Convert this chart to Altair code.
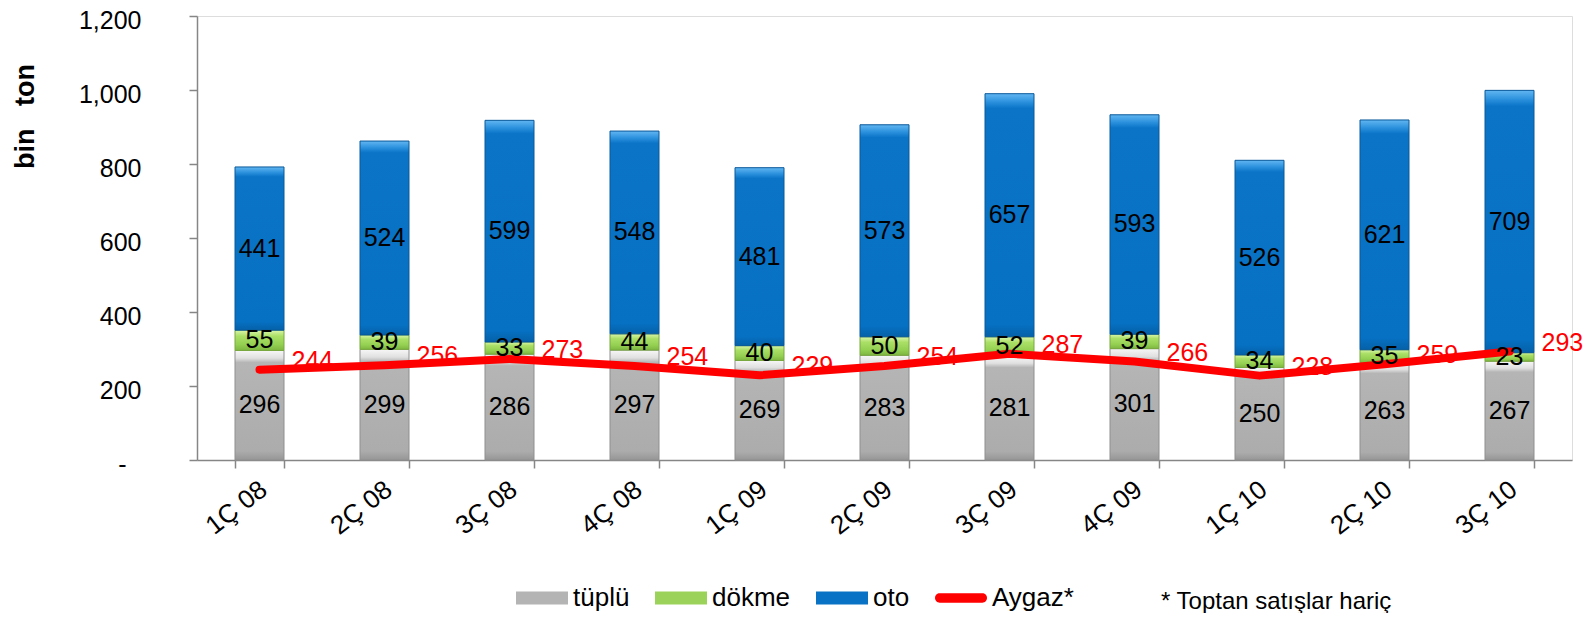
import altair as alt
import pandas as pd

# ---- data ----
quarters = ["1Ç 08", "2Ç 08", "3Ç 08", "4Ç 08", "1Ç 09", "2Ç 09",
            "3Ç 09", "4Ç 09", "1Ç 10", "2Ç 10", "3Ç 10"]
tuplu = [296, 299, 286, 297, 269, 283, 281, 301, 250, 263, 267]
dokme = [55, 39, 33, 44, 40, 50, 52, 39, 34, 35, 23]
oto = [441, 524, 599, 548, 481, 573, 657, 593, 526, 621, 709]
aygaz = [244, 256, 273, 254, 229, 254, 287, 266, 228, 259, 293]
y_ticks = [0, 200, 400, 600, 800, 1000, 1200]
legend_names = ["tüplü", "dökme", "oto", "Aygaz*"]
legend_colors = ["#b4b4b4", "#9bd35a", "#0a72c4", "#ff0000"]
footnote = "* Toptan satışlar hariç"

FONT = "Liberation Sans, Arial, sans-serif"

rows = []
for i, q in enumerate(quarters):
    base = 0
    for name, vals in (("tüplü", tuplu), ("dökme", dokme), ("oto", oto)):
        v = vals[i]
        rows.append(dict(quarter=q, series=name, value=v, start=base,
                         end=base + v, mid=base + v / 2))
        base += v
bars = pd.DataFrame(rows)
line_df = pd.DataFrame({"quarter": quarters, "aygaz": aygaz})
leg_df = pd.DataFrame({"series": legend_names})

xscale = alt.Scale(paddingInner=0.608, paddingOuter=0.304)
xaxis = alt.Axis(title=None, labelAngle=-38, labelAlign="right",
                 labelBaseline="middle", labelPadding=18, labelOffset=4,
                 labelFontSize=26, labelFont=FONT, labelColor="#000000",
                 tickBand="extent", tickSize=8, tickColor="#868686",
                 domainColor="#868686", domainWidth=1.5, tickWidth=1.5)
X = alt.X("quarter:N", sort=quarters, scale=xscale, axis=xaxis)

yscale = alt.Scale(domain=[0, 1200], nice=False, zero=True)
yaxis = alt.Axis(values=y_ticks, grid=False,
                 labelExpr="datum.value === 0 ? '-' : format(datum.value, ',')",
                 labelFontSize=25, labelFont=FONT, labelColor="#000000",
                 labelOffset=4,
                 labelPadding={"condition": {"test": "datum.value === 0", "value": 63},
                               "value": 48},
                 tickSize=8, tickColor="#868686", domainColor="#868686",
                 domainWidth=1.5, tickWidth=1.5,
                 title="bin\u00a0\u00a0\u00a0ton", titleFont=FONT, titleFontSize=27,
                 titleFontWeight="bold", titleColor="#000000", titleAngle=-90,
                 titleX=-172, titleY=100, titleAlign="center",
                 titleBaseline="middle")


def grad(stops):
    return alt.LinearGradient(
        gradient="linear", x1=0, x2=0, y1=0, y2=1,
        stops=[alt.GradientStop(offset=o, color=c) for o, c in stops])


gray_grad = grad([(0, "#f7f7f7"), (0.07, "#e0e0e0"), (0.11, "#b5b5b5"),
                  (0.92, "#acacac"), (1, "#969696")])
green_grad = grad([(0, "#dcf6ad"), (0.3, "#aadf66"), (0.7, "#94d052"),
                   (1, "#7db640")])
blue_grad = grad([(0, "#62b6f1"), (0.035, "#2a90dd"), (0.06, "#0b74c7"),
                  (0.95, "#0670c2"), (1, "#0561a8")])

base = alt.Chart(bars)


def bar_layer(name, fill, stroke):
    return base.transform_filter(alt.datum.series == name).mark_bar(
        fill=fill, stroke=stroke, strokeWidth=1
    ).encode(
        x=X,
        y=alt.Y("start:Q", scale=yscale, axis=yaxis),
        y2="end:Q",
    )


b1 = bar_layer("tüplü", gray_grad, "#8f8f8f")
b2 = bar_layer("dökme", green_grad, "#78a83e")
b3 = bar_layer("oto", blue_grad, "#08589a")

labels = base.mark_text(fontSize=25, font=FONT, color="#000000",
                        baseline="middle", align="center").encode(
    x=X, y=alt.Y("mid:Q", scale=yscale, axis=yaxis), text="value:Q")

line = alt.Chart(line_df).mark_line(
    color="#ff0000", strokeWidth=8, strokeCap="round", strokeJoin="round"
).encode(x=X, y=alt.Y("aygaz:Q", scale=yscale, axis=yaxis))

red_labels = alt.Chart(line_df).mark_text(
    fontSize=25, font=FONT, color="#ff0000", align="left",
    baseline="middle", dx=32, dy=-9
).encode(x=X, y=alt.Y("aygaz:Q", scale=yscale, axis=yaxis), text="aygaz:Q")

rect_path = "M-1,-0.25H1V0.25H-1Z"
round_path = ("M-0.82,-0.18H0.82A0.18,0.18 0 0 1 0.82,0.18H-0.82"
              "A0.18,0.18 0 0 1 -0.82,-0.18Z")
leg = alt.Legend(title=None, orient="none", legendX=319, legendY=556,
                 direction="horizontal", symbolSize=2704, symbolOpacity=1,
                 symbolStrokeWidth=0, labelFontSize=26, labelFont=FONT,
                 labelColor="#000000", labelOffset=5, columnPadding=25,
                 padding=0)
legend_layer = alt.Chart(leg_df).mark_point(filled=True, opacity=0).encode(
    color=alt.Color("series:N", sort=legend_names,
                    scale=alt.Scale(domain=legend_names, range=legend_colors),
                    legend=leg),
    shape=alt.Shape("series:N", sort=legend_names,
                    scale=alt.Scale(domain=legend_names,
                                    range=[rect_path, rect_path, rect_path, round_path]),
                    legend=leg),
)

chart = alt.layer(b1, b2, b3, line, labels, red_labels, legend_layer).properties(
    width=1375, height=444,
    padding={"left": 189, "top": 8, "right": 13, "bottom": 153},
    autosize=alt.AutoSizeParams(type="none"),
    title=alt.TitleParams(text=footnote, orient="top", anchor="start",
                          frame="group", dx=964, dy=618, offset=0,
                          baseline="middle", fontSize=24, fontWeight="normal",
                          font=FONT, color="#000000"),
).configure_view(stroke=None).configure(background="#ffffff")

chart.save("out.html", embed_options={"renderer": "svg", "actions": False})
